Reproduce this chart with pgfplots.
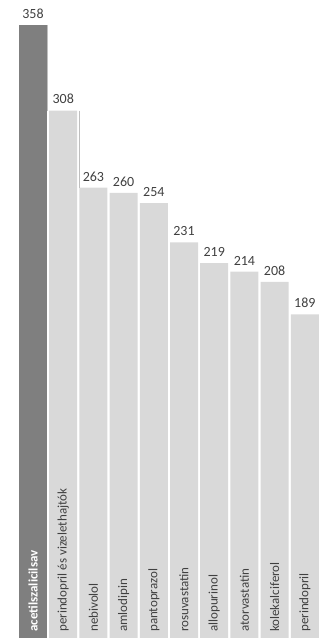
\documentclass[border=0pt]{standalone}
\usepackage{pgfplots}
\pgfplotsset{compat=1.18}
\usepackage{fontspec}
\setmainfont{Carlito}
\definecolor{darkbar}{HTML}{7F7F7F}
\definecolor{lightbar}{HTML}{D9D9D9}
\definecolor{txt}{HTML}{404040}
\begin{document}
\begin{tikzpicture}
\useasboundingbox (0,0) rectangle (327pt,641pt);
\begin{axis}[
  at={(17.9pt,3pt)}, anchor=south west,
  scale only axis, width=302pt, height=613pt,
  xmin=-0.5, xmax=9.5, ymin=0, ymax=358,
  hide axis, clip=false,
  /pgf/number format/assume math mode=true,
  ybar, bar width=28pt,
]
\addplot[fill=darkbar, draw=none, bar shift=0pt,
  nodes near coords,
  nodes near coords style={font=\fontsize{14}{16}\selectfont, text=txt, yshift=3pt}]
  coordinates {(0,358)};
\addplot[fill=lightbar, draw=none, bar shift=0pt,
  nodes near coords,
  nodes near coords style={font=\fontsize{14}{16}\selectfont, text=txt, yshift=3pt}]
  coordinates {(1,308) (2,263) (3,260) (4,254) (5,231) (6,219) (7,214) (8,208) (9,189)};
\addplot[sharp plot, draw=black!25, line width=0.8pt, forget plot] coordinates {(0.485,358) (0.485,308)};
\addplot[sharp plot, draw=black!25, line width=0.8pt, forget plot] coordinates {(1.52,308) (1.52,263)};
\addplot[sharp plot, draw=none, mark=none, point meta=explicit symbolic,
  nodes near coords,
  nodes near coords style={font=\fontsize{13}{15}\selectfont\bfseries, text=white, rotate=90, anchor=west, inner xsep=6pt}]
  coordinates {(0,0) [acetilszalicilsav]};
\addplot[only marks, mark=none, point meta=explicit symbolic,
  nodes near coords,
  nodes near coords style={font=\fontsize{13}{15}\selectfont, text=txt, rotate=90, anchor=west, inner xsep=6pt}]
  coordinates {(1,0) [perindopril és vizelethajtók] (2,0) [nebivolol] (3,0) [amlodipin] (4,0) [pantoprazol] (5,0) [rosuvastatin] (6,0) [allopurinol] (7,0) [atorvastatin] (8,0) [kolekalciferol] (9,0) [perindopril]};
\end{axis}
\end{tikzpicture}
\end{document}
